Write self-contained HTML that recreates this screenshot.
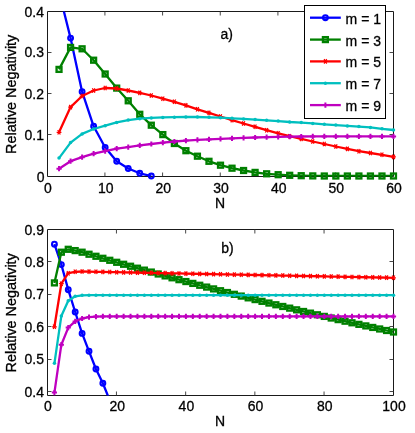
<!DOCTYPE html>
<html><head><meta charset="utf-8"><title>Relative Negativity</title>
<style>
html,body{margin:0;padding:0;background:#fff;}
svg{display:block;will-change:transform;}
text{font-family:"Liberation Sans",sans-serif;font-size:14px;fill:#000;stroke:#000;stroke-width:0.3px;}
</style></head>
<body>
<svg width="415" height="433" viewBox="0 0 415 433">
<rect width="415" height="433" fill="#fff"/>
<defs><clipPath id="ca"><rect x="47.5" y="11.5" width="346.0" height="165.0"/></clipPath><clipPath id="cb"><rect x="47.5" y="229.5" width="346.0" height="166.0"/></clipPath></defs>
<path d="M47.5,11.5H393.5V176.5H47.5Z" fill="none" stroke="#1a1a1a" stroke-width="1"/><path d="M104.92,176.5v-4.0M104.92,11.5v4.0M162.58,176.5v-4.0M162.58,11.5v4.0M220.25,176.5v-4.0M220.25,11.5v4.0M277.92,176.5v-4.0M277.92,11.5v4.0M335.58,176.5v-4.0M335.58,11.5v4.0M47.5,134.5h4.0M393.5,134.5h-4.0M47.5,93.5h4.0M393.5,93.5h-4.0M47.5,52.5h4.0M393.5,52.5h-4.0" fill="none" stroke="#333" stroke-width="0.9"/>
<path d="M47.5,229.5H393.5V395.5H47.5Z" fill="none" stroke="#1a1a1a" stroke-width="1"/><path d="M116.45,395.5v-4.0M116.45,229.5v4.0M185.65,395.5v-4.0M185.65,229.5v4.0M254.85,395.5v-4.0M254.85,229.5v4.0M324.05,395.5v-4.0M324.05,229.5v4.0M47.5,391.5h4.0M393.5,391.5h-4.0M47.5,359.5h4.0M393.5,359.5h-4.0M47.5,326.5h4.0M393.5,326.5h-4.0M47.5,294.5h4.0M393.5,294.5h-4.0M47.5,261.5h4.0M393.5,261.5h-4.0" fill="none" stroke="#333" stroke-width="0.9"/>
<g clip-path="url(#ca)"><polyline points="59.03,-8.00 70.57,38.10 82.10,91.70 93.63,126.30 105.17,147.50 116.70,161.20 128.23,168.50 139.77,173.30 151.30,176.00" fill="none" stroke="#0000ff" stroke-width="2.3" stroke-linejoin="round"/></g><circle cx="70.57" cy="38.10" r="2.4" fill="none" stroke="#0000ff" stroke-width="2.1"/><circle cx="82.10" cy="91.70" r="2.4" fill="none" stroke="#0000ff" stroke-width="2.1"/><circle cx="93.63" cy="126.30" r="2.4" fill="none" stroke="#0000ff" stroke-width="2.1"/><circle cx="105.17" cy="147.50" r="2.4" fill="none" stroke="#0000ff" stroke-width="2.1"/><circle cx="116.70" cy="161.20" r="2.4" fill="none" stroke="#0000ff" stroke-width="2.1"/><circle cx="128.23" cy="168.50" r="2.4" fill="none" stroke="#0000ff" stroke-width="2.1"/><circle cx="139.77" cy="173.30" r="2.4" fill="none" stroke="#0000ff" stroke-width="2.1"/><circle cx="151.30" cy="176.00" r="2.4" fill="none" stroke="#0000ff" stroke-width="2.1"/><g clip-path="url(#ca)"><polyline points="59.03,69.40 70.57,47.40 82.10,48.80 93.63,60.20 105.17,74.00 116.70,88.10 128.23,100.80 139.77,114.30 151.30,125.20 162.83,134.60 174.37,143.50 185.90,150.70 197.43,156.20 208.97,161.30 220.50,165.20 232.03,168.20 243.57,170.50 255.10,172.40 266.63,173.80 278.17,174.70 289.70,175.30 301.23,175.70 312.77,175.90 324.30,176.00 335.83,176.00 347.37,176.00 358.90,176.00 370.43,176.00 381.97,176.00 393.50,176.00" fill="none" stroke="#008000" stroke-width="2.3" stroke-linejoin="round"/></g><rect x="56.58" y="66.95" width="4.9" height="4.9" fill="none" stroke="#008000" stroke-width="2.35"/><rect x="68.12" y="44.95" width="4.9" height="4.9" fill="none" stroke="#008000" stroke-width="2.35"/><rect x="79.65" y="46.35" width="4.9" height="4.9" fill="none" stroke="#008000" stroke-width="2.35"/><rect x="91.18" y="57.75" width="4.9" height="4.9" fill="none" stroke="#008000" stroke-width="2.35"/><rect x="102.72" y="71.55" width="4.9" height="4.9" fill="none" stroke="#008000" stroke-width="2.35"/><rect x="114.25" y="85.65" width="4.9" height="4.9" fill="none" stroke="#008000" stroke-width="2.35"/><rect x="125.78" y="98.35" width="4.9" height="4.9" fill="none" stroke="#008000" stroke-width="2.35"/><rect x="137.32" y="111.85" width="4.9" height="4.9" fill="none" stroke="#008000" stroke-width="2.35"/><rect x="148.85" y="122.75" width="4.9" height="4.9" fill="none" stroke="#008000" stroke-width="2.35"/><rect x="160.38" y="132.15" width="4.9" height="4.9" fill="none" stroke="#008000" stroke-width="2.35"/><rect x="171.92" y="141.05" width="4.9" height="4.9" fill="none" stroke="#008000" stroke-width="2.35"/><rect x="183.45" y="148.25" width="4.9" height="4.9" fill="none" stroke="#008000" stroke-width="2.35"/><rect x="194.98" y="153.75" width="4.9" height="4.9" fill="none" stroke="#008000" stroke-width="2.35"/><rect x="206.52" y="158.85" width="4.9" height="4.9" fill="none" stroke="#008000" stroke-width="2.35"/><rect x="218.05" y="162.75" width="4.9" height="4.9" fill="none" stroke="#008000" stroke-width="2.35"/><rect x="229.58" y="165.75" width="4.9" height="4.9" fill="none" stroke="#008000" stroke-width="2.35"/><rect x="241.12" y="168.05" width="4.9" height="4.9" fill="none" stroke="#008000" stroke-width="2.35"/><rect x="252.65" y="169.95" width="4.9" height="4.9" fill="none" stroke="#008000" stroke-width="2.35"/><rect x="264.18" y="171.35" width="4.9" height="4.9" fill="none" stroke="#008000" stroke-width="2.35"/><rect x="275.72" y="172.25" width="4.9" height="4.9" fill="none" stroke="#008000" stroke-width="2.35"/><rect x="287.25" y="172.85" width="4.9" height="4.9" fill="none" stroke="#008000" stroke-width="2.35"/><rect x="298.78" y="173.25" width="4.9" height="4.9" fill="none" stroke="#008000" stroke-width="2.35"/><rect x="310.32" y="173.45" width="4.9" height="4.9" fill="none" stroke="#008000" stroke-width="2.35"/><rect x="321.85" y="173.55" width="4.9" height="4.9" fill="none" stroke="#008000" stroke-width="2.35"/><rect x="333.38" y="173.55" width="4.9" height="4.9" fill="none" stroke="#008000" stroke-width="2.35"/><rect x="344.92" y="173.55" width="4.9" height="4.9" fill="none" stroke="#008000" stroke-width="2.35"/><rect x="356.45" y="173.55" width="4.9" height="4.9" fill="none" stroke="#008000" stroke-width="2.35"/><rect x="367.98" y="173.55" width="4.9" height="4.9" fill="none" stroke="#008000" stroke-width="2.35"/><rect x="379.52" y="173.55" width="4.9" height="4.9" fill="none" stroke="#008000" stroke-width="2.35"/><rect x="391.05" y="173.55" width="4.9" height="4.9" fill="none" stroke="#008000" stroke-width="2.35"/><g clip-path="url(#ca)"><polyline points="59.03,132.30 70.57,107.10 82.10,96.00 93.63,90.50 105.17,88.00 116.70,88.50 128.23,90.50 139.77,92.90 151.30,95.50 162.83,98.70 174.37,101.80 185.90,105.40 197.43,109.30 208.97,112.90 220.50,116.50 232.03,120.10 243.57,123.50 255.10,126.80 266.63,130.20 278.17,133.30 289.70,136.20 301.23,138.90 312.77,141.50 324.30,144.00 335.83,146.50 347.37,148.90 358.90,151.20 370.43,153.00 381.97,154.80 393.50,156.90" fill="none" stroke="#ff0000" stroke-width="2.3" stroke-linejoin="round"/></g><path d="M56.63,132.30h4.8M57.73,130.05l2.60,4.50M57.73,134.55l2.60,-4.50M68.17,107.10h4.8M69.27,104.85l2.60,4.50M69.27,109.35l2.60,-4.50M79.70,96.00h4.8M80.80,93.75l2.60,4.50M80.80,98.25l2.60,-4.50M91.23,90.50h4.8M92.33,88.25l2.60,4.50M92.33,92.75l2.60,-4.50M102.77,88.00h4.8M103.87,85.75l2.60,4.50M103.87,90.25l2.60,-4.50M114.30,88.50h4.8M115.40,86.25l2.60,4.50M115.40,90.75l2.60,-4.50M125.83,90.50h4.8M126.93,88.25l2.60,4.50M126.93,92.75l2.60,-4.50M137.37,92.90h4.8M138.47,90.65l2.60,4.50M138.47,95.15l2.60,-4.50M148.90,95.50h4.8M150.00,93.25l2.60,4.50M150.00,97.75l2.60,-4.50M160.43,98.70h4.8M161.53,96.45l2.60,4.50M161.53,100.95l2.60,-4.50M171.97,101.80h4.8M173.07,99.55l2.60,4.50M173.07,104.05l2.60,-4.50M183.50,105.40h4.8M184.60,103.15l2.60,4.50M184.60,107.65l2.60,-4.50M195.03,109.30h4.8M196.13,107.05l2.60,4.50M196.13,111.55l2.60,-4.50M206.57,112.90h4.8M207.67,110.65l2.60,4.50M207.67,115.15l2.60,-4.50M218.10,116.50h4.8M219.20,114.25l2.60,4.50M219.20,118.75l2.60,-4.50M229.63,120.10h4.8M230.73,117.85l2.60,4.50M230.73,122.35l2.60,-4.50M241.17,123.50h4.8M242.27,121.25l2.60,4.50M242.27,125.75l2.60,-4.50M252.70,126.80h4.8M253.80,124.55l2.60,4.50M253.80,129.05l2.60,-4.50M264.23,130.20h4.8M265.33,127.95l2.60,4.50M265.33,132.45l2.60,-4.50M275.77,133.30h4.8M276.87,131.05l2.60,4.50M276.87,135.55l2.60,-4.50M287.30,136.20h4.8M288.40,133.95l2.60,4.50M288.40,138.45l2.60,-4.50M298.83,138.90h4.8M299.93,136.65l2.60,4.50M299.93,141.15l2.60,-4.50M310.37,141.50h4.8M311.47,139.25l2.60,4.50M311.47,143.75l2.60,-4.50M321.90,144.00h4.8M323.00,141.75l2.60,4.50M323.00,146.25l2.60,-4.50M333.43,146.50h4.8M334.53,144.25l2.60,4.50M334.53,148.75l2.60,-4.50M344.97,148.90h4.8M346.07,146.65l2.60,4.50M346.07,151.15l2.60,-4.50M356.50,151.20h4.8M357.60,148.95l2.60,4.50M357.60,153.45l2.60,-4.50M368.03,153.00h4.8M369.13,150.75l2.60,4.50M369.13,155.25l2.60,-4.50M379.57,154.80h4.8M380.67,152.55l2.60,4.50M380.67,157.05l2.60,-4.50M391.10,156.90h4.8M392.20,154.65l2.60,4.50M392.20,159.15l2.60,-4.50" fill="none" stroke="#ff0000" stroke-width="1.25"/><g clip-path="url(#ca)"><polyline points="59.03,158.10 70.57,142.60 82.10,133.90 93.63,129.00 105.17,125.70 116.70,122.40 128.23,120.10 139.77,118.70 151.30,117.90 162.83,117.40 174.37,117.20 185.90,117.00 197.43,117.00 208.97,117.30 220.50,117.70 232.03,118.30 243.57,118.90 255.10,119.60 266.63,120.30 278.17,121.10 289.70,122.00 301.23,122.60 312.77,123.40 324.30,124.30 335.83,125.10 347.37,125.90 358.90,126.60 370.43,127.40 381.97,128.80 393.50,130.00" fill="none" stroke="#00bfbf" stroke-width="2.3" stroke-linejoin="round"/></g><circle cx="59.03" cy="158.10" r="1.75" fill="#00bfbf"/><circle cx="70.57" cy="142.60" r="1.75" fill="#00bfbf"/><circle cx="82.10" cy="133.90" r="1.75" fill="#00bfbf"/><circle cx="93.63" cy="129.00" r="1.75" fill="#00bfbf"/><circle cx="105.17" cy="125.70" r="1.75" fill="#00bfbf"/><circle cx="116.70" cy="122.40" r="1.75" fill="#00bfbf"/><circle cx="128.23" cy="120.10" r="1.75" fill="#00bfbf"/><circle cx="139.77" cy="118.70" r="1.75" fill="#00bfbf"/><circle cx="151.30" cy="117.90" r="1.75" fill="#00bfbf"/><circle cx="162.83" cy="117.40" r="1.75" fill="#00bfbf"/><circle cx="174.37" cy="117.20" r="1.75" fill="#00bfbf"/><circle cx="185.90" cy="117.00" r="1.75" fill="#00bfbf"/><circle cx="197.43" cy="117.00" r="1.75" fill="#00bfbf"/><circle cx="208.97" cy="117.30" r="1.75" fill="#00bfbf"/><circle cx="220.50" cy="117.70" r="1.75" fill="#00bfbf"/><circle cx="232.03" cy="118.30" r="1.75" fill="#00bfbf"/><circle cx="243.57" cy="118.90" r="1.75" fill="#00bfbf"/><circle cx="255.10" cy="119.60" r="1.75" fill="#00bfbf"/><circle cx="266.63" cy="120.30" r="1.75" fill="#00bfbf"/><circle cx="278.17" cy="121.10" r="1.75" fill="#00bfbf"/><circle cx="289.70" cy="122.00" r="1.75" fill="#00bfbf"/><circle cx="301.23" cy="122.60" r="1.75" fill="#00bfbf"/><circle cx="312.77" cy="123.40" r="1.75" fill="#00bfbf"/><circle cx="324.30" cy="124.30" r="1.75" fill="#00bfbf"/><circle cx="335.83" cy="125.10" r="1.75" fill="#00bfbf"/><circle cx="347.37" cy="125.90" r="1.75" fill="#00bfbf"/><circle cx="358.90" cy="126.60" r="1.75" fill="#00bfbf"/><circle cx="370.43" cy="127.40" r="1.75" fill="#00bfbf"/><circle cx="381.97" cy="128.80" r="1.75" fill="#00bfbf"/><circle cx="393.50" cy="130.00" r="1.75" fill="#00bfbf"/><g clip-path="url(#ca)"><polyline points="59.03,168.70 70.57,161.20 82.10,157.20 93.63,153.70 105.17,151.10 116.70,148.60 128.23,147.10 139.77,145.40 151.30,144.00 162.83,142.70 174.37,141.50 185.90,140.60 197.43,139.90 208.97,139.40 220.50,138.90 232.03,138.40 243.57,137.90 255.10,137.50 266.63,137.20 278.17,136.90 289.70,136.70 301.23,136.50 312.77,136.40 324.30,136.40 335.83,136.40 347.37,136.40 358.90,136.40 370.43,136.40 381.97,136.40 393.50,136.40" fill="none" stroke="#bf00bf" stroke-width="2.3" stroke-linejoin="round"/></g><path d="M56.43,168.70h5.2M59.03,166.10v5.2M67.97,161.20h5.2M70.57,158.60v5.2M79.50,157.20h5.2M82.10,154.60v5.2M91.03,153.70h5.2M93.63,151.10v5.2M102.57,151.10h5.2M105.17,148.50v5.2M114.10,148.60h5.2M116.70,146.00v5.2M125.63,147.10h5.2M128.23,144.50v5.2M137.17,145.40h5.2M139.77,142.80v5.2M148.70,144.00h5.2M151.30,141.40v5.2M160.23,142.70h5.2M162.83,140.10v5.2M171.77,141.50h5.2M174.37,138.90v5.2M183.30,140.60h5.2M185.90,138.00v5.2M194.83,139.90h5.2M197.43,137.30v5.2M206.37,139.40h5.2M208.97,136.80v5.2M217.90,138.90h5.2M220.50,136.30v5.2M229.43,138.40h5.2M232.03,135.80v5.2M240.97,137.90h5.2M243.57,135.30v5.2M252.50,137.50h5.2M255.10,134.90v5.2M264.03,137.20h5.2M266.63,134.60v5.2M275.57,136.90h5.2M278.17,134.30v5.2M287.10,136.70h5.2M289.70,134.10v5.2M298.63,136.50h5.2M301.23,133.90v5.2M310.17,136.40h5.2M312.77,133.80v5.2M321.70,136.40h5.2M324.30,133.80v5.2M333.23,136.40h5.2M335.83,133.80v5.2M344.77,136.40h5.2M347.37,133.80v5.2M356.30,136.40h5.2M358.90,133.80v5.2M367.83,136.40h5.2M370.43,133.80v5.2M379.37,136.40h5.2M381.97,133.80v5.2M390.90,136.40h5.2M393.50,133.80v5.2" fill="none" stroke="#bf00bf" stroke-width="2.0"/>
<g clip-path="url(#cb)"><polyline points="54.42,244.20 61.34,264.60 68.26,289.70 75.18,312.00 82.10,333.40 89.02,351.30 95.94,369.00 102.86,383.30 109.78,400.40" fill="none" stroke="#0000ff" stroke-width="2.3" stroke-linejoin="round"/></g><circle cx="54.42" cy="244.20" r="2.4" fill="none" stroke="#0000ff" stroke-width="2.1"/><circle cx="61.34" cy="264.60" r="2.4" fill="none" stroke="#0000ff" stroke-width="2.1"/><circle cx="68.26" cy="289.70" r="2.4" fill="none" stroke="#0000ff" stroke-width="2.1"/><circle cx="75.18" cy="312.00" r="2.4" fill="none" stroke="#0000ff" stroke-width="2.1"/><circle cx="82.10" cy="333.40" r="2.4" fill="none" stroke="#0000ff" stroke-width="2.1"/><circle cx="89.02" cy="351.30" r="2.4" fill="none" stroke="#0000ff" stroke-width="2.1"/><circle cx="95.94" cy="369.00" r="2.4" fill="none" stroke="#0000ff" stroke-width="2.1"/><circle cx="102.86" cy="383.30" r="2.4" fill="none" stroke="#0000ff" stroke-width="2.1"/><g clip-path="url(#cb)"><polyline points="54.42,282.90 61.34,252.20 68.26,249.30 75.18,250.60 82.10,252.20 89.02,254.24 95.94,256.27 102.86,258.29 109.78,260.29 116.70,262.29 123.62,264.27 130.54,266.24 137.46,268.20 144.38,270.14 151.30,272.07 158.22,273.99 165.14,275.90 172.06,277.80 178.98,279.68 185.90,281.55 192.82,283.41 199.74,285.26 206.66,287.09 213.58,288.91 220.50,290.73 227.42,292.52 234.34,294.31 241.26,296.08 248.18,297.84 255.10,299.59 262.02,301.33 268.94,303.05 275.86,304.77 282.78,306.47 289.70,308.15 296.62,309.83 303.54,311.49 310.46,313.14 317.38,314.78 324.30,316.41 331.22,318.02 338.14,319.62 345.06,321.21 351.98,322.79 358.90,324.36 365.82,325.91 372.74,327.45 379.66,328.98 386.58,330.50 393.50,332.00" fill="none" stroke="#008000" stroke-width="2.3" stroke-linejoin="round"/></g><rect x="51.97" y="280.45" width="4.9" height="4.9" fill="none" stroke="#008000" stroke-width="2.35"/><rect x="58.89" y="249.75" width="4.9" height="4.9" fill="none" stroke="#008000" stroke-width="2.35"/><rect x="65.81" y="246.85" width="4.9" height="4.9" fill="none" stroke="#008000" stroke-width="2.35"/><rect x="72.73" y="248.15" width="4.9" height="4.9" fill="none" stroke="#008000" stroke-width="2.35"/><rect x="79.65" y="249.75" width="4.9" height="4.9" fill="none" stroke="#008000" stroke-width="2.35"/><rect x="86.57" y="251.79" width="4.9" height="4.9" fill="none" stroke="#008000" stroke-width="2.35"/><rect x="93.49" y="253.82" width="4.9" height="4.9" fill="none" stroke="#008000" stroke-width="2.35"/><rect x="100.41" y="255.84" width="4.9" height="4.9" fill="none" stroke="#008000" stroke-width="2.35"/><rect x="107.33" y="257.84" width="4.9" height="4.9" fill="none" stroke="#008000" stroke-width="2.35"/><rect x="114.25" y="259.84" width="4.9" height="4.9" fill="none" stroke="#008000" stroke-width="2.35"/><rect x="121.17" y="261.82" width="4.9" height="4.9" fill="none" stroke="#008000" stroke-width="2.35"/><rect x="128.09" y="263.79" width="4.9" height="4.9" fill="none" stroke="#008000" stroke-width="2.35"/><rect x="135.01" y="265.75" width="4.9" height="4.9" fill="none" stroke="#008000" stroke-width="2.35"/><rect x="141.93" y="267.69" width="4.9" height="4.9" fill="none" stroke="#008000" stroke-width="2.35"/><rect x="148.85" y="269.62" width="4.9" height="4.9" fill="none" stroke="#008000" stroke-width="2.35"/><rect x="155.77" y="271.54" width="4.9" height="4.9" fill="none" stroke="#008000" stroke-width="2.35"/><rect x="162.69" y="273.45" width="4.9" height="4.9" fill="none" stroke="#008000" stroke-width="2.35"/><rect x="169.61" y="275.35" width="4.9" height="4.9" fill="none" stroke="#008000" stroke-width="2.35"/><rect x="176.53" y="277.23" width="4.9" height="4.9" fill="none" stroke="#008000" stroke-width="2.35"/><rect x="183.45" y="279.10" width="4.9" height="4.9" fill="none" stroke="#008000" stroke-width="2.35"/><rect x="190.37" y="280.96" width="4.9" height="4.9" fill="none" stroke="#008000" stroke-width="2.35"/><rect x="197.29" y="282.81" width="4.9" height="4.9" fill="none" stroke="#008000" stroke-width="2.35"/><rect x="204.21" y="284.64" width="4.9" height="4.9" fill="none" stroke="#008000" stroke-width="2.35"/><rect x="211.13" y="286.46" width="4.9" height="4.9" fill="none" stroke="#008000" stroke-width="2.35"/><rect x="218.05" y="288.28" width="4.9" height="4.9" fill="none" stroke="#008000" stroke-width="2.35"/><rect x="224.97" y="290.07" width="4.9" height="4.9" fill="none" stroke="#008000" stroke-width="2.35"/><rect x="231.89" y="291.86" width="4.9" height="4.9" fill="none" stroke="#008000" stroke-width="2.35"/><rect x="238.81" y="293.63" width="4.9" height="4.9" fill="none" stroke="#008000" stroke-width="2.35"/><rect x="245.73" y="295.39" width="4.9" height="4.9" fill="none" stroke="#008000" stroke-width="2.35"/><rect x="252.65" y="297.14" width="4.9" height="4.9" fill="none" stroke="#008000" stroke-width="2.35"/><rect x="259.57" y="298.88" width="4.9" height="4.9" fill="none" stroke="#008000" stroke-width="2.35"/><rect x="266.49" y="300.60" width="4.9" height="4.9" fill="none" stroke="#008000" stroke-width="2.35"/><rect x="273.41" y="302.32" width="4.9" height="4.9" fill="none" stroke="#008000" stroke-width="2.35"/><rect x="280.33" y="304.02" width="4.9" height="4.9" fill="none" stroke="#008000" stroke-width="2.35"/><rect x="287.25" y="305.70" width="4.9" height="4.9" fill="none" stroke="#008000" stroke-width="2.35"/><rect x="294.17" y="307.38" width="4.9" height="4.9" fill="none" stroke="#008000" stroke-width="2.35"/><rect x="301.09" y="309.04" width="4.9" height="4.9" fill="none" stroke="#008000" stroke-width="2.35"/><rect x="308.01" y="310.69" width="4.9" height="4.9" fill="none" stroke="#008000" stroke-width="2.35"/><rect x="314.93" y="312.33" width="4.9" height="4.9" fill="none" stroke="#008000" stroke-width="2.35"/><rect x="321.85" y="313.96" width="4.9" height="4.9" fill="none" stroke="#008000" stroke-width="2.35"/><rect x="328.77" y="315.57" width="4.9" height="4.9" fill="none" stroke="#008000" stroke-width="2.35"/><rect x="335.69" y="317.17" width="4.9" height="4.9" fill="none" stroke="#008000" stroke-width="2.35"/><rect x="342.61" y="318.76" width="4.9" height="4.9" fill="none" stroke="#008000" stroke-width="2.35"/><rect x="349.53" y="320.34" width="4.9" height="4.9" fill="none" stroke="#008000" stroke-width="2.35"/><rect x="356.45" y="321.91" width="4.9" height="4.9" fill="none" stroke="#008000" stroke-width="2.35"/><rect x="363.37" y="323.46" width="4.9" height="4.9" fill="none" stroke="#008000" stroke-width="2.35"/><rect x="370.29" y="325.00" width="4.9" height="4.9" fill="none" stroke="#008000" stroke-width="2.35"/><rect x="377.21" y="326.53" width="4.9" height="4.9" fill="none" stroke="#008000" stroke-width="2.35"/><rect x="384.13" y="328.05" width="4.9" height="4.9" fill="none" stroke="#008000" stroke-width="2.35"/><rect x="391.05" y="329.55" width="4.9" height="4.9" fill="none" stroke="#008000" stroke-width="2.35"/><g clip-path="url(#cb)"><polyline points="54.42,326.80 61.34,283.70 68.26,273.20 75.18,271.80 82.10,271.50 89.02,271.64 95.94,271.78 102.86,271.92 109.78,272.06 116.70,272.20 123.62,272.34 130.54,272.48 137.46,272.62 144.38,272.76 151.30,272.90 158.22,273.04 165.14,273.18 172.06,273.32 178.98,273.46 185.90,273.60 192.82,273.74 199.74,273.88 206.66,274.02 213.58,274.16 220.50,274.30 227.42,274.44 234.34,274.58 241.26,274.72 248.18,274.86 255.10,275.00 262.02,275.14 268.94,275.28 275.86,275.42 282.78,275.56 289.70,275.70 296.62,275.84 303.54,275.98 310.46,276.12 317.38,276.26 324.30,276.40 331.22,276.54 338.14,276.68 345.06,276.82 351.98,276.96 358.90,277.10 365.82,277.24 372.74,277.38 379.66,277.52 386.58,277.66 393.50,277.80" fill="none" stroke="#ff0000" stroke-width="2.3" stroke-linejoin="round"/></g><path d="M52.02,326.80h4.8M53.12,324.55l2.60,4.50M53.12,329.05l2.60,-4.50M58.94,283.70h4.8M60.04,281.45l2.60,4.50M60.04,285.95l2.60,-4.50M65.86,273.20h4.8M66.96,270.95l2.60,4.50M66.96,275.45l2.60,-4.50M72.78,271.80h4.8M73.88,269.55l2.60,4.50M73.88,274.05l2.60,-4.50M79.70,271.50h4.8M80.80,269.25l2.60,4.50M80.80,273.75l2.60,-4.50M86.62,271.64h4.8M87.72,269.39l2.60,4.50M87.72,273.89l2.60,-4.50M93.54,271.78h4.8M94.64,269.53l2.60,4.50M94.64,274.03l2.60,-4.50M100.46,271.92h4.8M101.56,269.67l2.60,4.50M101.56,274.17l2.60,-4.50M107.38,272.06h4.8M108.48,269.81l2.60,4.50M108.48,274.31l2.60,-4.50M114.30,272.20h4.8M115.40,269.95l2.60,4.50M115.40,274.45l2.60,-4.50M121.22,272.34h4.8M122.32,270.09l2.60,4.50M122.32,274.59l2.60,-4.50M128.14,272.48h4.8M129.24,270.23l2.60,4.50M129.24,274.73l2.60,-4.50M135.06,272.62h4.8M136.16,270.37l2.60,4.50M136.16,274.87l2.60,-4.50M141.98,272.76h4.8M143.08,270.51l2.60,4.50M143.08,275.01l2.60,-4.50M148.90,272.90h4.8M150.00,270.65l2.60,4.50M150.00,275.15l2.60,-4.50M155.82,273.04h4.8M156.92,270.79l2.60,4.50M156.92,275.29l2.60,-4.50M162.74,273.18h4.8M163.84,270.93l2.60,4.50M163.84,275.43l2.60,-4.50M169.66,273.32h4.8M170.76,271.07l2.60,4.50M170.76,275.57l2.60,-4.50M176.58,273.46h4.8M177.68,271.21l2.60,4.50M177.68,275.71l2.60,-4.50M183.50,273.60h4.8M184.60,271.35l2.60,4.50M184.60,275.85l2.60,-4.50M190.42,273.74h4.8M191.52,271.49l2.60,4.50M191.52,275.99l2.60,-4.50M197.34,273.88h4.8M198.44,271.63l2.60,4.50M198.44,276.13l2.60,-4.50M204.26,274.02h4.8M205.36,271.77l2.60,4.50M205.36,276.27l2.60,-4.50M211.18,274.16h4.8M212.28,271.91l2.60,4.50M212.28,276.41l2.60,-4.50M218.10,274.30h4.8M219.20,272.05l2.60,4.50M219.20,276.55l2.60,-4.50M225.02,274.44h4.8M226.12,272.19l2.60,4.50M226.12,276.69l2.60,-4.50M231.94,274.58h4.8M233.04,272.33l2.60,4.50M233.04,276.83l2.60,-4.50M238.86,274.72h4.8M239.96,272.47l2.60,4.50M239.96,276.97l2.60,-4.50M245.78,274.86h4.8M246.88,272.61l2.60,4.50M246.88,277.11l2.60,-4.50M252.70,275.00h4.8M253.80,272.75l2.60,4.50M253.80,277.25l2.60,-4.50M259.62,275.14h4.8M260.72,272.89l2.60,4.50M260.72,277.39l2.60,-4.50M266.54,275.28h4.8M267.64,273.03l2.60,4.50M267.64,277.53l2.60,-4.50M273.46,275.42h4.8M274.56,273.17l2.60,4.50M274.56,277.67l2.60,-4.50M280.38,275.56h4.8M281.48,273.31l2.60,4.50M281.48,277.81l2.60,-4.50M287.30,275.70h4.8M288.40,273.45l2.60,4.50M288.40,277.95l2.60,-4.50M294.22,275.84h4.8M295.32,273.59l2.60,4.50M295.32,278.09l2.60,-4.50M301.14,275.98h4.8M302.24,273.73l2.60,4.50M302.24,278.23l2.60,-4.50M308.06,276.12h4.8M309.16,273.87l2.60,4.50M309.16,278.37l2.60,-4.50M314.98,276.26h4.8M316.08,274.01l2.60,4.50M316.08,278.51l2.60,-4.50M321.90,276.40h4.8M323.00,274.15l2.60,4.50M323.00,278.65l2.60,-4.50M328.82,276.54h4.8M329.92,274.29l2.60,4.50M329.92,278.79l2.60,-4.50M335.74,276.68h4.8M336.84,274.43l2.60,4.50M336.84,278.93l2.60,-4.50M342.66,276.82h4.8M343.76,274.57l2.60,4.50M343.76,279.07l2.60,-4.50M349.58,276.96h4.8M350.68,274.71l2.60,4.50M350.68,279.21l2.60,-4.50M356.50,277.10h4.8M357.60,274.85l2.60,4.50M357.60,279.35l2.60,-4.50M363.42,277.24h4.8M364.52,274.99l2.60,4.50M364.52,279.49l2.60,-4.50M370.34,277.38h4.8M371.44,275.13l2.60,4.50M371.44,279.63l2.60,-4.50M377.26,277.52h4.8M378.36,275.27l2.60,4.50M378.36,279.77l2.60,-4.50M384.18,277.66h4.8M385.28,275.41l2.60,4.50M385.28,279.91l2.60,-4.50M391.10,277.80h4.8M392.20,275.55l2.60,4.50M392.20,280.05l2.60,-4.50" fill="none" stroke="#ff0000" stroke-width="1.25"/><g clip-path="url(#cb)"><polyline points="54.42,363.30 61.34,315.90 68.26,300.80 75.18,296.30 82.10,295.30 89.02,295.20 95.94,295.20 102.86,295.20 109.78,295.20 116.70,295.20 123.62,295.20 130.54,295.20 137.46,295.20 144.38,295.20 151.30,295.20 158.22,295.20 165.14,295.20 172.06,295.20 178.98,295.20 185.90,295.20 192.82,295.20 199.74,295.20 206.66,295.20 213.58,295.20 220.50,295.20 227.42,295.20 234.34,295.20 241.26,295.20 248.18,295.20 255.10,295.20 262.02,295.20 268.94,295.20 275.86,295.20 282.78,295.20 289.70,295.20 296.62,295.20 303.54,295.20 310.46,295.20 317.38,295.20 324.30,295.20 331.22,295.20 338.14,295.20 345.06,295.20 351.98,295.20 358.90,295.20 365.82,295.20 372.74,295.20 379.66,295.20 386.58,295.20 393.50,295.20" fill="none" stroke="#00bfbf" stroke-width="2.3" stroke-linejoin="round"/></g><circle cx="54.42" cy="363.30" r="1.75" fill="#00bfbf"/><circle cx="61.34" cy="315.90" r="1.75" fill="#00bfbf"/><circle cx="68.26" cy="300.80" r="1.75" fill="#00bfbf"/><circle cx="75.18" cy="296.30" r="1.75" fill="#00bfbf"/><circle cx="82.10" cy="295.30" r="1.75" fill="#00bfbf"/><circle cx="89.02" cy="295.20" r="1.75" fill="#00bfbf"/><circle cx="95.94" cy="295.20" r="1.75" fill="#00bfbf"/><circle cx="102.86" cy="295.20" r="1.75" fill="#00bfbf"/><circle cx="109.78" cy="295.20" r="1.75" fill="#00bfbf"/><circle cx="116.70" cy="295.20" r="1.75" fill="#00bfbf"/><circle cx="123.62" cy="295.20" r="1.75" fill="#00bfbf"/><circle cx="130.54" cy="295.20" r="1.75" fill="#00bfbf"/><circle cx="137.46" cy="295.20" r="1.75" fill="#00bfbf"/><circle cx="144.38" cy="295.20" r="1.75" fill="#00bfbf"/><circle cx="151.30" cy="295.20" r="1.75" fill="#00bfbf"/><circle cx="158.22" cy="295.20" r="1.75" fill="#00bfbf"/><circle cx="165.14" cy="295.20" r="1.75" fill="#00bfbf"/><circle cx="172.06" cy="295.20" r="1.75" fill="#00bfbf"/><circle cx="178.98" cy="295.20" r="1.75" fill="#00bfbf"/><circle cx="185.90" cy="295.20" r="1.75" fill="#00bfbf"/><circle cx="192.82" cy="295.20" r="1.75" fill="#00bfbf"/><circle cx="199.74" cy="295.20" r="1.75" fill="#00bfbf"/><circle cx="206.66" cy="295.20" r="1.75" fill="#00bfbf"/><circle cx="213.58" cy="295.20" r="1.75" fill="#00bfbf"/><circle cx="220.50" cy="295.20" r="1.75" fill="#00bfbf"/><circle cx="227.42" cy="295.20" r="1.75" fill="#00bfbf"/><circle cx="234.34" cy="295.20" r="1.75" fill="#00bfbf"/><circle cx="241.26" cy="295.20" r="1.75" fill="#00bfbf"/><circle cx="248.18" cy="295.20" r="1.75" fill="#00bfbf"/><circle cx="255.10" cy="295.20" r="1.75" fill="#00bfbf"/><circle cx="262.02" cy="295.20" r="1.75" fill="#00bfbf"/><circle cx="268.94" cy="295.20" r="1.75" fill="#00bfbf"/><circle cx="275.86" cy="295.20" r="1.75" fill="#00bfbf"/><circle cx="282.78" cy="295.20" r="1.75" fill="#00bfbf"/><circle cx="289.70" cy="295.20" r="1.75" fill="#00bfbf"/><circle cx="296.62" cy="295.20" r="1.75" fill="#00bfbf"/><circle cx="303.54" cy="295.20" r="1.75" fill="#00bfbf"/><circle cx="310.46" cy="295.20" r="1.75" fill="#00bfbf"/><circle cx="317.38" cy="295.20" r="1.75" fill="#00bfbf"/><circle cx="324.30" cy="295.20" r="1.75" fill="#00bfbf"/><circle cx="331.22" cy="295.20" r="1.75" fill="#00bfbf"/><circle cx="338.14" cy="295.20" r="1.75" fill="#00bfbf"/><circle cx="345.06" cy="295.20" r="1.75" fill="#00bfbf"/><circle cx="351.98" cy="295.20" r="1.75" fill="#00bfbf"/><circle cx="358.90" cy="295.20" r="1.75" fill="#00bfbf"/><circle cx="365.82" cy="295.20" r="1.75" fill="#00bfbf"/><circle cx="372.74" cy="295.20" r="1.75" fill="#00bfbf"/><circle cx="379.66" cy="295.20" r="1.75" fill="#00bfbf"/><circle cx="386.58" cy="295.20" r="1.75" fill="#00bfbf"/><circle cx="393.50" cy="295.20" r="1.75" fill="#00bfbf"/><g clip-path="url(#cb)"><polyline points="54.42,392.60 61.34,344.70 68.26,327.60 75.18,321.40 82.10,318.50 89.02,317.10 95.94,316.60 102.86,316.40 109.78,316.40 116.70,316.40 123.62,316.40 130.54,316.40 137.46,316.40 144.38,316.40 151.30,316.40 158.22,316.40 165.14,316.40 172.06,316.40 178.98,316.40 185.90,316.40 192.82,316.40 199.74,316.40 206.66,316.40 213.58,316.40 220.50,316.40 227.42,316.40 234.34,316.40 241.26,316.40 248.18,316.40 255.10,316.40 262.02,316.40 268.94,316.40 275.86,316.40 282.78,316.40 289.70,316.40 296.62,316.40 303.54,316.40 310.46,316.40 317.38,316.40 324.30,316.40 331.22,316.40 338.14,316.40 345.06,316.40 351.98,316.40 358.90,316.40 365.82,316.40 372.74,316.40 379.66,316.40 386.58,316.40 393.50,316.40" fill="none" stroke="#bf00bf" stroke-width="2.3" stroke-linejoin="round"/></g><path d="M51.82,392.60h5.2M54.42,390.00v5.2M58.74,344.70h5.2M61.34,342.10v5.2M65.66,327.60h5.2M68.26,325.00v5.2M72.58,321.40h5.2M75.18,318.80v5.2M79.50,318.50h5.2M82.10,315.90v5.2M86.42,317.10h5.2M89.02,314.50v5.2M93.34,316.60h5.2M95.94,314.00v5.2M100.26,316.40h5.2M102.86,313.80v5.2M107.18,316.40h5.2M109.78,313.80v5.2M114.10,316.40h5.2M116.70,313.80v5.2M121.02,316.40h5.2M123.62,313.80v5.2M127.94,316.40h5.2M130.54,313.80v5.2M134.86,316.40h5.2M137.46,313.80v5.2M141.78,316.40h5.2M144.38,313.80v5.2M148.70,316.40h5.2M151.30,313.80v5.2M155.62,316.40h5.2M158.22,313.80v5.2M162.54,316.40h5.2M165.14,313.80v5.2M169.46,316.40h5.2M172.06,313.80v5.2M176.38,316.40h5.2M178.98,313.80v5.2M183.30,316.40h5.2M185.90,313.80v5.2M190.22,316.40h5.2M192.82,313.80v5.2M197.14,316.40h5.2M199.74,313.80v5.2M204.06,316.40h5.2M206.66,313.80v5.2M210.98,316.40h5.2M213.58,313.80v5.2M217.90,316.40h5.2M220.50,313.80v5.2M224.82,316.40h5.2M227.42,313.80v5.2M231.74,316.40h5.2M234.34,313.80v5.2M238.66,316.40h5.2M241.26,313.80v5.2M245.58,316.40h5.2M248.18,313.80v5.2M252.50,316.40h5.2M255.10,313.80v5.2M259.42,316.40h5.2M262.02,313.80v5.2M266.34,316.40h5.2M268.94,313.80v5.2M273.26,316.40h5.2M275.86,313.80v5.2M280.18,316.40h5.2M282.78,313.80v5.2M287.10,316.40h5.2M289.70,313.80v5.2M294.02,316.40h5.2M296.62,313.80v5.2M300.94,316.40h5.2M303.54,313.80v5.2M307.86,316.40h5.2M310.46,313.80v5.2M314.78,316.40h5.2M317.38,313.80v5.2M321.70,316.40h5.2M324.30,313.80v5.2M328.62,316.40h5.2M331.22,313.80v5.2M335.54,316.40h5.2M338.14,313.80v5.2M342.46,316.40h5.2M345.06,313.80v5.2M349.38,316.40h5.2M351.98,313.80v5.2M356.30,316.40h5.2M358.90,313.80v5.2M363.22,316.40h5.2M365.82,313.80v5.2M370.14,316.40h5.2M372.74,313.80v5.2M377.06,316.40h5.2M379.66,313.80v5.2M383.98,316.40h5.2M386.58,313.80v5.2M390.90,316.40h5.2M393.50,313.80v5.2" fill="none" stroke="#bf00bf" stroke-width="2.0"/>
<g><text transform="translate(48.00,193.00) scale(1,1.045)" text-anchor="middle">0</text>
<text transform="translate(105.67,193.00) scale(1,1.045)" text-anchor="middle">10</text>
<text transform="translate(163.33,193.00) scale(1,1.045)" text-anchor="middle">20</text>
<text transform="translate(221.00,193.00) scale(1,1.045)" text-anchor="middle">30</text>
<text transform="translate(278.67,193.00) scale(1,1.045)" text-anchor="middle">40</text>
<text transform="translate(336.33,193.00) scale(1,1.045)" text-anchor="middle">50</text>
<text transform="translate(394.00,193.00) scale(1,1.045)" text-anchor="middle">60</text>
<text transform="translate(44.50,182.20) scale(1,1.045)" text-anchor="end">0</text>
<text transform="translate(44.00,139.95) scale(1,1.045)" text-anchor="end">0.1</text>
<text transform="translate(44.00,98.70) scale(1,1.045)" text-anchor="end">0.2</text>
<text transform="translate(44.00,57.45) scale(1,1.045)" text-anchor="end">0.3</text>
<text transform="translate(44.00,16.70) scale(1,1.045)" text-anchor="end">0.4</text>
<text transform="translate(48.00,411.40) scale(1,1.045)" text-anchor="middle">0</text>
<text transform="translate(117.20,411.40) scale(1,1.045)" text-anchor="middle">20</text>
<text transform="translate(186.40,411.40) scale(1,1.045)" text-anchor="middle">40</text>
<text transform="translate(255.60,411.40) scale(1,1.045)" text-anchor="middle">60</text>
<text transform="translate(324.80,411.40) scale(1,1.045)" text-anchor="middle">80</text>
<text transform="translate(394.00,411.40) scale(1,1.045)" text-anchor="middle">100</text>
<text transform="translate(44.00,396.75) scale(1,1.045)" text-anchor="end">0.4</text>
<text transform="translate(44.00,364.20) scale(1,1.045)" text-anchor="end">0.5</text>
<text transform="translate(44.00,331.65) scale(1,1.045)" text-anchor="end">0.6</text>
<text transform="translate(44.00,299.10) scale(1,1.045)" text-anchor="end">0.7</text>
<text transform="translate(44.00,266.55) scale(1,1.045)" text-anchor="end">0.8</text>
<text transform="translate(44.00,234.50) scale(1,1.045)" text-anchor="end">0.9</text>
<text transform="translate(220.00,208.10) scale(1,1.045)" text-anchor="middle">N</text>
<text transform="translate(220.00,426.30) scale(1,1.045)" text-anchor="middle">N</text>
<text transform="translate(220.50,39.20) scale(1,1.045)" text-anchor="start">a)</text>
<text transform="translate(221.30,252.90) scale(1,1.045)" text-anchor="start">b)</text>
<text transform="translate(15.9,94.3) rotate(-90) scale(1,1.045)" text-anchor="middle" style="font-size:14.4px">Relative Negativity</text>
<text transform="translate(15.9,312.8) rotate(-90) scale(1,1.045)" text-anchor="middle" style="font-size:14.4px">Relative Negativity</text></g>
<g><rect x="304.5" y="5.5" width="81.0" height="113.0" fill="#fff" stroke="#000" stroke-width="1"/>
<line x1="310" y1="17.7" x2="340.8" y2="17.7" stroke="#0000ff" stroke-width="2.3"/>
<circle cx="325.40" cy="17.70" r="2.4" fill="none" stroke="#0000ff" stroke-width="2.1"/>
<text transform="translate(345.6,23.70) scale(1,1.045)">m = 1</text>
<line x1="310" y1="39.6" x2="340.8" y2="39.6" stroke="#008000" stroke-width="2.3"/>
<rect x="322.95" y="37.15" width="4.9" height="4.9" fill="none" stroke="#008000" stroke-width="2.35"/>
<text transform="translate(345.6,45.60) scale(1,1.045)">m = 3</text>
<line x1="310" y1="61.4" x2="340.8" y2="61.4" stroke="#ff0000" stroke-width="2.3"/>
<path d="M323.00,61.40h4.8M324.10,59.15l2.60,4.50M324.10,63.65l2.60,-4.50" fill="none" stroke="#ff0000" stroke-width="1.25"/>
<text transform="translate(345.6,67.40) scale(1,1.045)">m = 5</text>
<line x1="310" y1="83.2" x2="340.8" y2="83.2" stroke="#00bfbf" stroke-width="2.3"/>
<circle cx="325.40" cy="83.20" r="1.75" fill="#00bfbf"/>
<text transform="translate(345.6,89.20) scale(1,1.045)">m = 7</text>
<line x1="310" y1="105.1" x2="340.8" y2="105.1" stroke="#bf00bf" stroke-width="2.3"/>
<path d="M322.80,105.10h5.2M325.40,102.50v5.2" fill="none" stroke="#bf00bf" stroke-width="2.0"/>
<text transform="translate(345.6,111.10) scale(1,1.045)">m = 9</text></g>
</svg>
</body></html>
